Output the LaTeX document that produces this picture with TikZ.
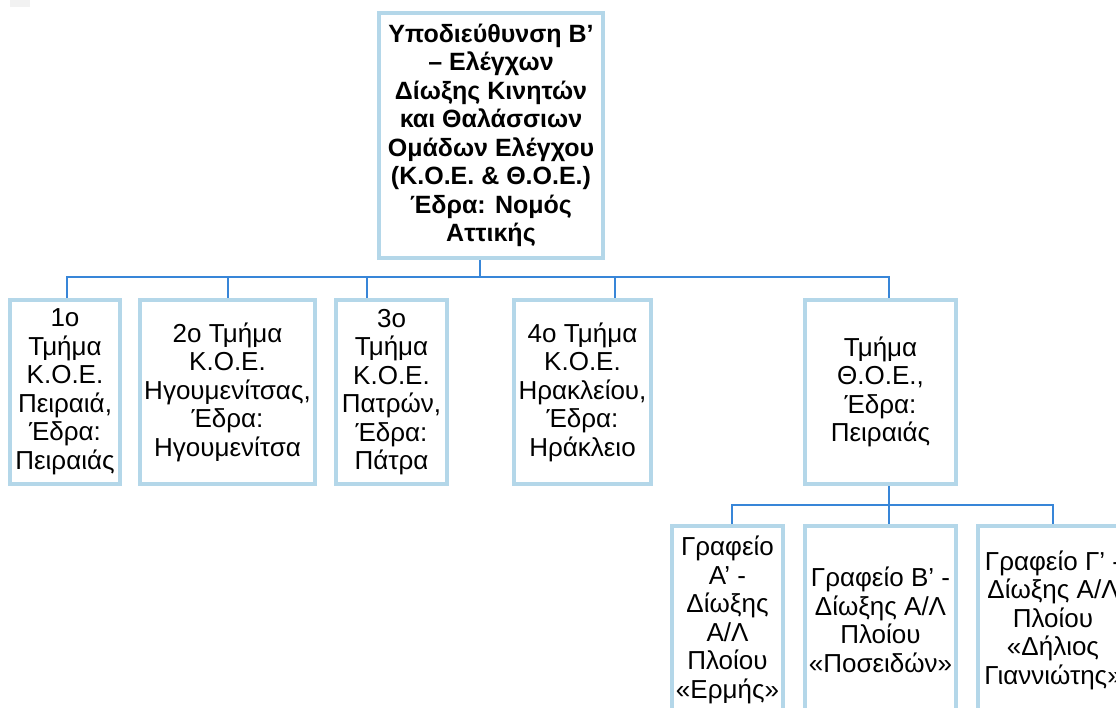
\documentclass[tikz,border=0pt]{standalone}
\usepackage{fontspec}
\setmainfont{Liberation Sans}
\definecolor{boxline}{RGB}{180,215,233}
\definecolor{conn}{RGB}{56,134,216}
\definecolor{speck}{RGB}{242,242,242}
\tikzset{
  unit/.style={draw=boxline, line width=4pt, fill=white, inner sep=0pt, align=center,
    font=\fontsize{26}{28.5}\selectfont, text=black},
  headbox/.style={unit, font=\fontsize{25}{28.5}\selectfont\bfseries},
  link/.style={draw=conn, line width=2pt}
}
\begin{document}
\begin{tikzpicture}[x=1pt,y=-1pt]
\useasboundingbox (0,0) rectangle (1116,708);
\clip (0,0) rectangle (1116,708);
\fill[speck] (10,0) rectangle (30,7);

\node[headbox, minimum width=224pt, minimum height=245pt] (top) at (491,135.5)
  {Υποδιεύθυνση Β’\\– Ελέγχων\\Δίωξης Κινητών\\και Θαλάσσιων\\Ομάδων Ελέγχου\\(Κ.Ο.Ε. \& Θ.Ο.Ε.)\\Έδρα: Νομός\\Αττικής};

\node[unit, minimum width=110pt, minimum height=184pt] (b1) at (65,392)
  {1ο\\Τμήμα\\Κ.Ο.Ε.\\Πειραιά,\\Έδρα:\\Πειραιάς};
\node[unit, minimum width=175pt, minimum height=184pt] (b2) at (227.5,392)
  {2ο Τμήμα\\Κ.Ο.Ε.\\Ηγουμενίτσας,\\Έδρα:\\Ηγουμενίτσα};
\node[unit, minimum width=111pt, minimum height=184pt] (b3) at (391.5,392)
  {3ο\\Τμήμα\\Κ.Ο.Ε.\\Πατρών,\\Έδρα:\\Πάτρα};
\node[unit, minimum width=137pt, minimum height=184pt] (b4) at (582.5,392)
  {4ο Τμήμα\\Κ.Ο.Ε.\\Ηρακλείου,\\Έδρα:\\Ηράκλειο};
\node[unit, minimum width=151pt, minimum height=184pt] (b5) at (880.5,392)
  {Τμήμα\\Θ.Ο.Ε.,\\Έδρα:\\Πειραιάς};

\node[unit, minimum width=111pt, minimum height=188pt] (c1) at (727.5,620)
  {Γραφείο\\Α’ -\\Δίωξης\\Α/Λ\\Πλοίου\\«Ερμής»};
\node[unit, minimum width=151pt, minimum height=188pt] (c2) at (880.5,620)
  {Γραφείο Β’ -\\Δίωξης Α/Λ\\Πλοίου\\«Ποσειδών»};
\node[unit, minimum width=150pt, minimum height=188pt] (c3) at (1053,620)
  {Γραφείο Γ’ -\\Δίωξης Α/Λ\\Πλοίου\\«Δήλιος\\Γιαννιώτης»};

% first bus
\coordinate (h0) at (480,277);
\coordinate (t1) at (67,277);
\coordinate (t2) at (228,277);
\coordinate (t3) at (367,277);
\coordinate (t4) at (615,277);
\coordinate (t5) at (889,277);
\draw[link] (top.south -| h0) -- (h0);
\draw[link] (t1 |- b1.north) -- (t1) -- (t5) -- (t5 |- b5.north);
\draw[link] (t2) -- (t2 |- b2.north);
\draw[link] (t3) -- (t3 |- b3.north);
\draw[link] (t4) -- (t4 |- b4.north);

% second bus
\coordinate (k0) at (889,505);
\coordinate (s1) at (732,505);
\coordinate (s3) at (1053,505);
\draw[link] (b5.south -| k0) -- (k0 |- c2.north);
\draw[link] (s1 |- c1.north) -- (s1) -- (s3) -- (s3 |- c3.north);
\end{tikzpicture}
\end{document}
